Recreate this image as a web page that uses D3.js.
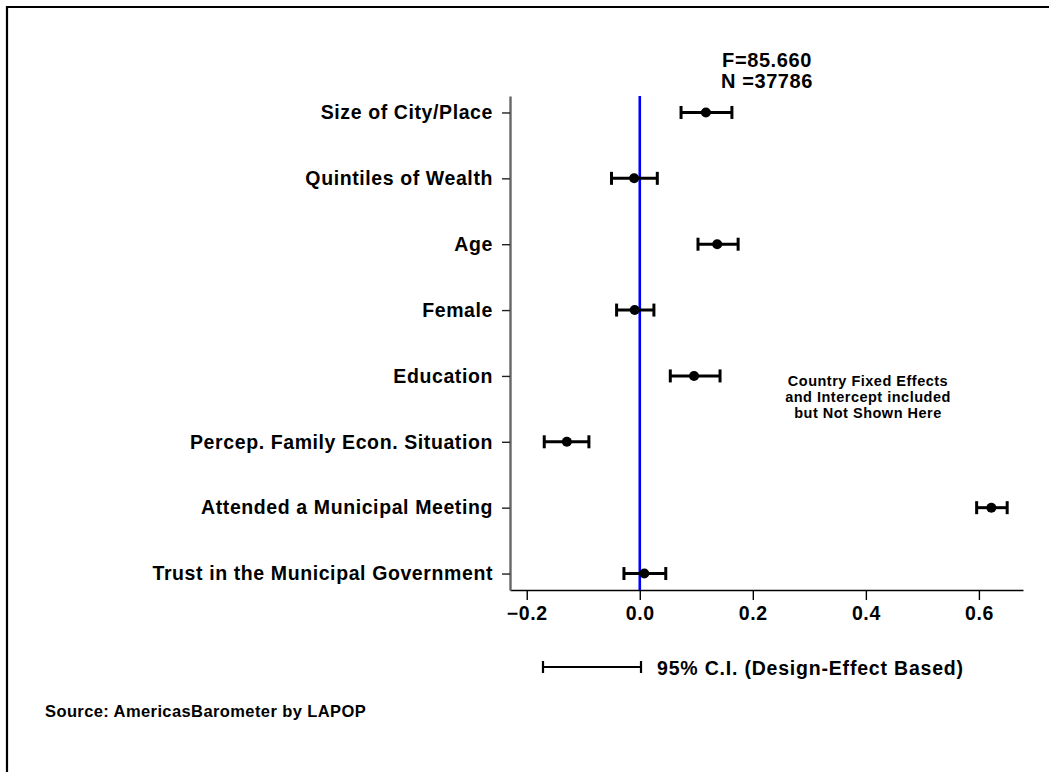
<!DOCTYPE html>
<html><head><meta charset="utf-8">
<script src="https://cdn.jsdelivr.net/npm/d3@7"></script>
<style>
html,body{margin:0;padding:0;background:#fff;}
text{font-family:"Liberation Sans",Arial,Helvetica,sans-serif;font-weight:bold;fill:#000;}
</style></head>
<body>
<script>
const categories = ["Size of City/Place","Quintiles of Wealth","Age","Female","Education","Percep. Family Econ. Situation","Attended a Municipal Meeting","Trust in the Municipal Government"];
const estimates = [0.117,-0.010,0.137,-0.009,0.096,-0.129,0.622,0.008];
const ciLow     = [0.073,-0.050,0.103,-0.041,0.054,-0.169,0.596,-0.028];
const ciHigh    = [0.163,0.031,0.174,0.025,0.142,-0.090,0.650,0.046];
const xTicks = [-0.2,0.0,0.2,0.4,0.6];
const statLines = ["F=85.660","N =37786"];
const noteLines = ["Country Fixed Effects","and Intercept included","but Not Shown Here"];
const legendLabel = "95% C.I. (Design-Effect Based)";
const sourceLabel = "Source: AmericasBarometer by LAPOP";

const W=1049,H=772;
const svg=d3.select("body").append("svg").attr("width",W).attr("height",H);

// frame
svg.append("path").attr("d",`M7,${H+5}V7H${W+5}`).attr("fill","none").attr("stroke","#000").attr("stroke-width",2.2);

const x=d3.scaleLinear().domain([-0.2296,0.678]).range([510,1023]);
const y=d3.scalePoint().domain(categories).range([96,590]).padding(0.25);

// x axis
const xa=svg.append("g").attr("transform","translate(0,590)")
  .call(d3.axisBottom(x).tickValues(xTicks).tickFormat(d3.format(".1f")).tickSize(10).tickSizeOuter(0).tickPadding(6));
xa.select(".domain").attr("stroke","#000").attr("stroke-width",1.6);
xa.selectAll(".tick line").attr("stroke","#000").attr("stroke-width",1.4);
xa.selectAll(".tick text").attr("font-size",19.5).attr("letter-spacing","0.6px").attr("font-family","Liberation Sans, Arial, sans-serif").attr("font-weight","bold").attr("fill","#000");

// y axis
const ya=svg.append("g").attr("transform","translate(510,0)")
  .call(d3.axisLeft(y).tickSize(8).tickSizeOuter(0).tickPadding(9));
ya.select(".domain").attr("stroke","#666").attr("stroke-width",2.4);
ya.selectAll(".tick line").attr("stroke","#222").attr("stroke-width",1.4);
ya.selectAll(".tick text").attr("font-size",19.5).attr("letter-spacing","0.6px").attr("font-family","Liberation Sans, Arial, sans-serif").attr("font-weight","bold").attr("fill","#000");

// zero reference line
svg.append("line").attr("x1",x(0)).attr("x2",x(0)).attr("y1",96).attr("y2",590)
  .attr("stroke","#0000ff").attr("stroke-width",2.6);

// error bars
const g=svg.append("g");
categories.forEach((c,i)=>{
  const yy=y(c);
  g.append("line").attr("x1",x(ciLow[i])).attr("x2",x(ciHigh[i])).attr("y1",yy).attr("y2",yy).attr("stroke","#000").attr("stroke-width",3);
  [ciLow[i],ciHigh[i]].forEach(v=>{
    g.append("line").attr("x1",x(v)).attr("x2",x(v)).attr("y1",yy-6.5).attr("y2",yy+6.5).attr("stroke","#000").attr("stroke-width",3);
  });
  g.append("circle").attr("cx",x(estimates[i])).attr("cy",yy).attr("r",5).attr("fill","#000");
});

// stats
statLines.forEach((t,i)=>{
  svg.append("text").attr("x",767).attr("y",66.5+i*21).attr("text-anchor","middle").attr("font-size",20).attr("letter-spacing","0.6px").text(t);
});
// note
noteLines.forEach((t,i)=>{
  svg.append("text").attr("x",868).attr("y",386+i*16).attr("text-anchor","middle").attr("font-size",14.5).attr("letter-spacing","0.5px").text(t);
});

// legend
const ly=667;
svg.append("line").attr("x1",543).attr("x2",641).attr("y1",ly).attr("y2",ly).attr("stroke","#000").attr("stroke-width",2.2);
[543,641].forEach(xx=>svg.append("line").attr("x1",xx).attr("x2",xx).attr("y1",ly-6).attr("y2",ly+6).attr("stroke","#000").attr("stroke-width",2.2));
svg.append("text").attr("x",657).attr("y",675).attr("font-size",19.5).attr("letter-spacing","0.8px").text(legendLabel);

// source
svg.append("text").attr("x",45).attr("y",717).attr("font-size",16.5).attr("letter-spacing","0.4px").text(sourceLabel);
</script>
</body></html>
